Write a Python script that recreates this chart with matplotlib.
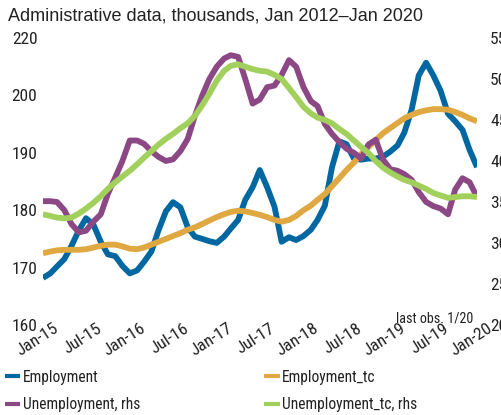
import numpy as np
import pandas as pd
import matplotlib
matplotlib.use('Agg')
import matplotlib.pyplot as plt
import matplotlib.dates as mdates
import matplotlib.transforms as mtransforms

# monthly observations, Jan-15 .. Jan-20
dates = pd.date_range('2015-01-01', '2020-01-01', freq='MS')

employment = [168.2, 169.0, 170.2, 171.5, 173.8, 176.5, 178.6, 177.5, 174.5, 172.3,
              172.0, 170.3, 169.0, 169.5, 171.0, 172.8, 176.5, 179.8, 181.4, 180.5,
              177.0, 175.4, 175.0, 174.6, 174.3, 175.4, 176.8, 178.3, 181.8, 184.0,
              187.0, 184.0, 180.6, 174.5, 175.3, 174.8, 175.5, 176.6, 178.3, 180.8,
              187.5, 192.0, 191.5, 189.0, 188.8, 189.0, 189.0, 189.3, 190.2, 191.3,
              193.5, 197.5, 203.5, 205.7, 203.5, 200.8, 196.8, 195.5, 194.0, 190.5,
              187.5]
employment_tc = [172.5, 172.8, 173.0, 173.1, 173.1, 173.1, 173.2, 173.5, 173.8, 174.0,
                 174.0, 173.7, 173.3, 173.2, 173.5, 174.0, 174.5, 175.0, 175.5, 176.0,
                 176.6, 177.0, 177.6, 178.2, 178.8, 179.3, 179.7, 179.9, 179.8, 179.5,
                 179.2, 178.8, 178.3, 178.0, 178.3, 179.0, 180.0, 180.8, 181.8, 182.8,
                 184.2, 185.6, 187.0, 188.3, 189.8, 191.0, 192.2, 193.4, 194.3, 195.2,
                 196.0, 196.6, 197.1, 197.4, 197.6, 197.6, 197.5, 197.1, 196.6, 196.0,
                 195.5]
unemployment = [35.1, 35.1, 35.0, 34.0, 32.3, 31.3, 31.5, 32.6, 33.5, 36.0,
                38.0, 40.0, 42.5, 42.5, 42.1, 41.2, 40.5, 40.0, 40.2, 41.2,
                42.7, 45.5, 48.0, 50.0, 51.5, 52.5, 52.9, 52.7, 50.0, 47.0,
                47.5, 49.0, 49.2, 50.5, 52.3, 51.5, 49.0, 47.3, 46.7, 44.5,
                43.3, 42.3, 41.5, 41.0, 40.3, 42.0, 42.6, 40.2, 39.0, 38.8,
                38.4, 37.7, 36.2, 35.0, 34.5, 34.2, 33.5, 36.5, 37.9, 37.4,
                35.6]
unemployment_tc = [33.5, 33.3, 33.1, 33.0, 33.1, 33.6, 34.2, 34.9, 35.7, 36.6,
                   37.4, 38.1, 38.8, 39.6, 40.4, 41.2, 42.0, 42.7, 43.3, 44.0,
                   44.6, 45.5, 46.8, 48.2, 49.8, 51.0, 51.6, 51.8, 51.5, 51.2,
                   51.0, 50.9, 50.5, 50.0, 48.9, 47.8, 46.6, 45.8, 45.3, 45.0,
                   44.6, 43.9, 43.3, 42.5, 41.7, 41.0, 40.0, 39.2, 38.6, 38.1,
                   37.7, 37.4, 37.0, 36.6, 36.1, 35.8, 35.5, 35.6, 35.7, 35.7,
                   35.6]

left_ticks = [160, 170, 180, 190, 200, 210]
left_labels = ['160', '170', '180', '190', '200', '220']
right_ticks = [20, 25, 30, 35, 40, 45, 50, 55]

blue, orange, purple, green = '#0067a0', '#dfa841', '#8c4884', '#a2d05c'
txt = '#222222'
narrow = ['Roboto Condensed', 'PT Sans Narrow', 'DejaVu Sans']

fig = plt.figure(figsize=(5.02, 4.15), dpi=100)
ax = fig.add_axes([43/502, 1 - 325/415, (477-43)/502, (325-38)/415])
ax2 = ax.twinx()

ax.plot(dates, employment, color=blue, lw=4.2, solid_capstyle='butt', label='Employment')
ax.plot(dates, employment_tc, color=orange, lw=4.2, solid_capstyle='butt', label='Employment_tc')
ax2.plot(dates, unemployment, color=purple, lw=4.2, solid_capstyle='butt', label='Unemployment, rhs')
ax2.plot(dates, unemployment_tc, color=green, lw=4.2, solid_capstyle='butt', label='Unemployment_tc, rhs')

ax.set_xlim(dates[0], dates[-1])
ax.set_ylim(160, 210)
ax2.set_ylim(20, 55)
ax.set_yticks(left_ticks)
ax.set_yticklabels(left_labels)
ax2.set_yticks(right_ticks)

ax.xaxis.set_major_locator(mdates.MonthLocator(bymonth=[1, 7]))
ax.xaxis.set_major_formatter(mdates.DateFormatter('%b-%y'))

for a in (ax, ax2):
    for s in a.spines.values():
        s.set_visible(False)
    a.tick_params(length=0, colors=txt, labelsize=12.5)
    for lab in a.get_yticklabels():
        lab.set_family(narrow)
ax.tick_params(axis='y', pad=4)
ax2.tick_params(axis='y', pad=9.5)
ax.tick_params(axis='x', pad=-3)
shift = mtransforms.ScaledTranslation(10/100, 0, fig.dpi_scale_trans)
for lab in ax.get_xticklabels():
    lab.set_family(narrow)
    lab.set_rotation(33)
    lab.set_ha('right')
    lab.set_va('top')
    lab.set_rotation_mode('anchor')
    lab.set_transform(lab.get_transform() + shift)

fig.text(8/502, 1 - 16/415, 'Administrative data, thousands, Jan 2012\u2013Jan 2020',
         fontsize=13, family='Liberation Sans', color=txt, va='center', ha='left')
fig.text(473/502, 1 - 318/415, 'last obs. 1/20', fontsize=10.2, family=narrow,
         color=txt, va='center', ha='right')

h1, l1 = ax.get_legend_handles_labels()
h2, l2 = ax2.get_legend_handles_labels()
handles = [h1[0], h2[0], h1[1], h2[1]]
labels = [l1[0], l2[0], l1[1], l2[1]]
leg = fig.legend(handles, labels, ncol=2, loc='upper left', bbox_to_anchor=(0, 1 - 365/415),
                 frameon=False, handlelength=1.0, handletextpad=0.15, columnspacing=8.0,
                 labelspacing=0.8, borderaxespad=0, borderpad=0.3,
                 prop={'family': narrow, 'size': 11.2})
for t in leg.get_texts():
    t.set_color(txt)
for h in leg.legend_handles:
    h.set_linewidth(3)

fig.savefig('out.png', dpi=100)
